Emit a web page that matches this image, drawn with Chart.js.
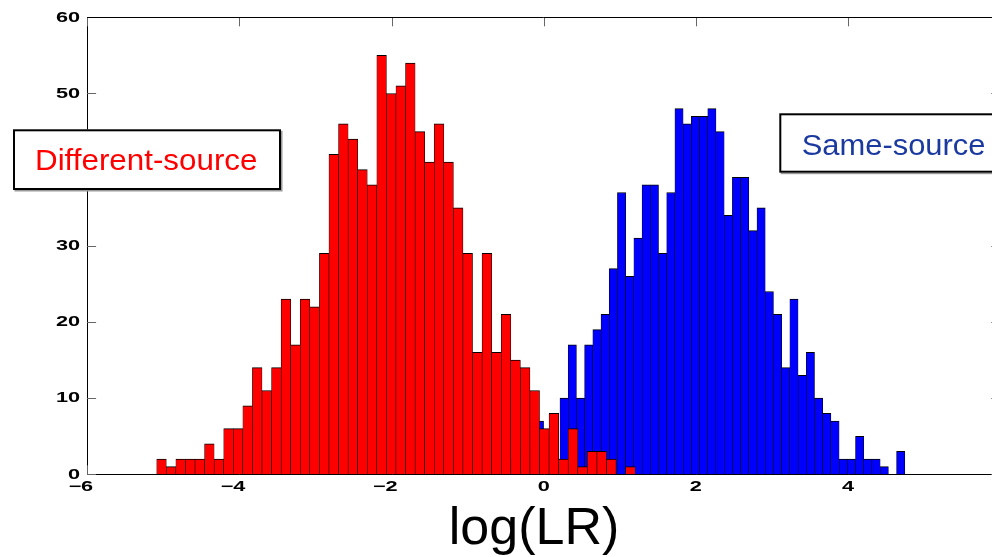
<!DOCTYPE html>
<html>
<head>
<meta charset="utf-8">
<script src="https://cdn.jsdelivr.net/npm/chart.js@4/dist/chart.umd.min.js"></script>
<style>
  html, body { margin: 0; padding: 0; overflow: hidden; background: #fff; }
  #wrap { position: relative; width: 1010px; height: 557px; }
</style>
</head>
<body>
<div id="wrap"><canvas id="c"></canvas></div>
<script>
// Histogram counts of log(LR), 50 bins per comparison type
const diffCounts = [2, 1, 2, 2, 2, 4, 2, 6, 6, 9, 14, 11, 14, 23, 17, 23, 22, 29, 42, 46,
                    44, 40, 38, 55, 50, 51, 54, 45, 41, 46, 41, 35, 29, 16, 29, 16, 21, 15, 14, 11,
                    6, 8, 2, 6, 1, 3, 3, 2, 0, 1];
const sameCounts = [1, 1, 2, 3, 4, 7, 5, 2, 10, 17, 10, 17, 19, 21, 27, 37, 26, 31, 38, 38,
                    29, 37, 48, 46, 47, 47, 48, 45, 34, 39, 39, 32, 35, 24, 21, 14, 23, 13, 16, 10,
                    8, 7, 2, 2, 5, 2, 2, 1, 0, 3];

// Lower edge of the first bin and bin width (log(LR) units)
const diffBinStart = -5.085, diffBinWidth = 0.12575;
const sameBinStart = -0.649, sameBinWidth = 0.10788;

const xTicks = [-6, -4, -2, 0, 2, 4, 6];
const yTicks = [0, 10, 20, 30, 40, 50, 60];

const diffLabel = 'Different-source';
const sameLabel = 'Same-source';
const xTitle = 'log(LR)';

// bin centres paired with counts
function histPoints(counts, start, width) {
  return counts.map((c, i) => ({ x: start + width * (i + 0.5), y: c }));
}

function stretchedText(ctx, text, x, y, align, sx) {
  ctx.save();
  ctx.translate(x, y);
  ctx.scale(sx, 1);
  ctx.textAlign = align;
  ctx.fillText(text, 0, 0);
  ctx.restore();
}

function textBox(ctx, box, text, color, font, sx, tx, baseline) {
  ctx.save();
  ctx.fillStyle = '#9a9a9a';
  ctx.fillRect(box.x + 1.5, box.y + 1.5, box.w, box.h);
  ctx.fillStyle = '#fff';
  ctx.fillRect(box.x, box.y, box.w, box.h);
  ctx.strokeStyle = '#000';
  ctx.lineWidth = 2;
  ctx.strokeRect(box.x + 1, box.y + 1, box.w - 2, box.h - 2);
  ctx.fillStyle = color;
  ctx.font = font;
  ctx.textBaseline = 'alphabetic';
  stretchedText(ctx, text, tx, baseline, 'left', sx);
  ctx.restore();
}

const axisDecor = {
  id: 'axisDecor',
  beforeDatasetsDraw(chart) {
    // inward tick marks, under the bars
    const { ctx, chartArea: a, scales: { x, y } } = chart;
    ctx.save();
    ctx.strokeStyle = '#666';
    ctx.lineWidth = 1;
    ctx.beginPath();
    y.ticks.forEach(t => {
      const py = Math.round(y.getPixelForValue(t.value)) + 0.5;
      ctx.moveTo(a.left, py); ctx.lineTo(a.left + 9, py);
      ctx.moveTo(a.right, py); ctx.lineTo(a.right - 9, py);
    });
    x.ticks.forEach(t => {
      const px = Math.round(x.getPixelForValue(t.value)) + 0.5;
      ctx.moveTo(px, a.bottom); ctx.lineTo(px, a.bottom - 9);
      ctx.moveTo(px, a.top); ctx.lineTo(px, a.top + 9);
    });
    ctx.stroke();
    ctx.restore();
  },
  afterDraw(chart) {
    const { ctx, chartArea: a, scales: { x, y } } = chart;
    ctx.save();
    // top and right edges of the axes box
    ctx.strokeStyle = '#000';
    ctx.lineWidth = 1;
    ctx.beginPath();
    ctx.moveTo(a.left, Math.round(a.top) + 0.5);
    ctx.lineTo(a.right, Math.round(a.top) + 0.5);
    ctx.lineTo(a.right, a.bottom);
    ctx.stroke();

    // tick labels
    ctx.fillStyle = '#000';
    ctx.font = 'bold 14px "Liberation Sans", Arial, sans-serif';
    ctx.textBaseline = 'middle';
    const sx = 1.55;
    y.ticks.forEach(t => {
      stretchedText(ctx, String(t.value), a.left - 7, y.getPixelForValue(t.value) + 0.5, 'right', sx);
    });
    x.ticks.forEach(t => {
      const v = t.value;
      const digits = String(Math.abs(v));
      const d = ctx.measureText(digits).width * sx;
      const px = x.getPixelForValue(v);
      const label = v < 0 ? '\u2212' + digits : digits;
      stretchedText(ctx, label, px + d / 2, a.bottom + 13, 'right', sx);
    });

    // axis title
    ctx.font = '52px "Liberation Sans", Arial, sans-serif';
    ctx.textBaseline = 'alphabetic';
    ctx.textAlign = 'center';
    ctx.fillText(xTitle, 534, 544);
    ctx.restore();

    // series annotations
    textBox(ctx, { x: 13, y: 129.3, w: 268, h: 60.7 }, diffLabel, '#ff0000',
            '30px "Liberation Sans", Arial, sans-serif', 1.045, 35, 170);
    textBox(ctx, { x: 779.3, y: 113.3, w: 229, h: 59.4 }, sameLabel, '#1a3aa0',
            '30px "Liberation Sans", Arial, sans-serif', 1.03, 801.7, 155);
  }
};

const barStyle = {
  borderColor: '#000',
  borderWidth: { top: 1, left: 0.6, right: 0.6, bottom: 0 },
  borderSkipped: 'start',
  barPercentage: 1,
  categoryPercentage: 1,
  grouped: false
};

new Chart(document.getElementById('c'), {
  type: 'bar',
  data: {
    datasets: [
      Object.assign({
        label: diffLabel,
        data: histPoints(diffCounts, diffBinStart, diffBinWidth),
        backgroundColor: '#ff0000',
        xAxisID: 'x'
      }, barStyle),
      Object.assign({
        label: sameLabel,
        data: histPoints(sameCounts, sameBinStart, sameBinWidth),
        backgroundColor: '#0000ff',
        xAxisID: 'xs'
      }, barStyle)
    ]
  },
  options: {
    responsive: true,
    maintainAspectRatio: false,
    animation: false,
    layout: { padding: { left: 0, right: 9.7, top: 17.3, bottom: 0 } },
    plugins: { legend: { display: false }, tooltip: { enabled: false } },
    scales: {
      x: {
        type: 'linear', min: -6, max: 6, offset: false,
        afterBuildTicks: s => { s.ticks = xTicks.map(v => ({ value: v })); },
        ticks: { display: false },
        grid: { display: false, offset: false },
        border: { display: true, color: '#000', width: 1 },
        afterFit: s => { s.height = 82.7; }
      },
      xs: { type: 'linear', min: -6, max: 6, offset: false, grid: { offset: false }, display: false },
      y: {
        min: 0, max: 60,
        afterBuildTicks: s => { s.ticks = yTicks.map(v => ({ value: v })); },
        ticks: { display: false },
        grid: { display: false },
        border: { display: true, color: '#000', width: 1 },
        afterFit: s => { s.width = 87.1; }
      }
    }
  },
  plugins: [axisDecor]
});
</script>
</body>
</html>
